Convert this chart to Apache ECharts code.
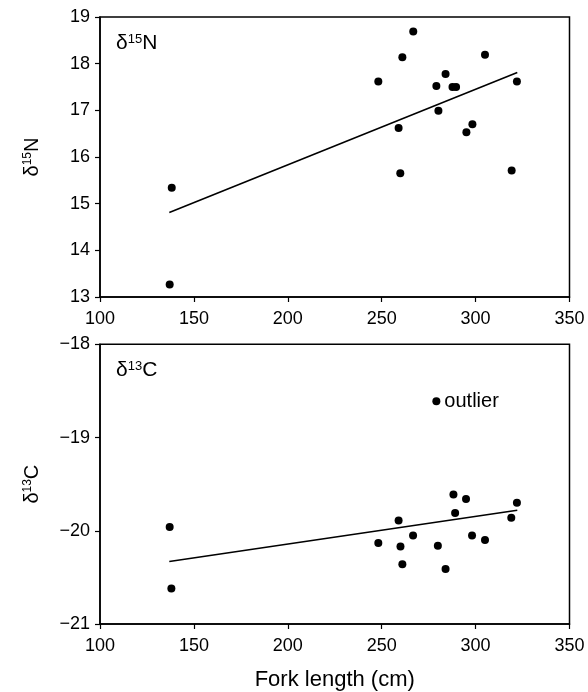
<!DOCTYPE html>
<html>
<head>
<meta charset="utf-8">
<script src="https://cdn.jsdelivr.net/npm/echarts@6/dist/echarts.min.js"></script>
<style>
html,body{margin:0;padding:0;background:#fff;}
#c{width:588px;height:692px;}
</style>
</head>
<body>
<div id="c"></div>
<script>
// Top panel: δ15N vs fork length
const nX = [266.8, 261.0, 248.2, 305.0, 284.0, 279.1, 287.7, 289.6, 322.0, 280.2, 298.3, 295.1, 259.0, 259.9, 319.2, 138.2, 137.1];
const nY = [18.69, 18.14, 17.62, 18.19, 17.78, 17.52, 17.50, 17.50, 17.62, 16.99, 16.70, 16.53, 16.62, 15.65, 15.71, 15.34, 13.27];
const nFitX = [136.9, 322.2];
const nFitY = [14.81, 17.81];

// Bottom panel: δ13C vs fork length
const cX = [288.2, 294.9, 322.0, 289.1, 319.0, 259.0, 266.7, 248.2, 260.0, 279.9, 298.1, 305.0, 261.0, 284.0, 137.1, 138.0];
const cY = [-19.61, -19.66, -19.70, -19.81, -19.86, -19.89, -20.05, -20.13, -20.17, -20.16, -20.05, -20.10, -20.36, -20.41, -19.96, -20.62];
const outlierX = [279.1];
const outlierY = [-18.61];
const outlierLabel = ['outlier'];
const cFitX = [136.9, 322.2];
const cFitY = [-20.33, -19.78];

const xTicks = [100, 150, 200, 250, 300, 350];
const nTicks = [13, 14, 15, 16, 17, 18, 19];
const cTicks = [-21, -20, -19, -18];

const FONT = '"Liberation Sans", Arial, Helvetica, sans-serif';
const zip = (xs, ys) => xs.map((x, i) => [x, ys[i]]);
const minus = v => String(v).replace('-', '\u2212');

const chart = echarts.init(document.getElementById('c'));

function xAxisCfg(idx, withName) {
  return {
    type: 'value', gridIndex: idx,
    min: xTicks[0], max: xTicks[xTicks.length - 1], interval: 50,
    axisLine: {show: true, onZero: false, lineStyle: {color: '#000', width: 1.5}},
    axisTick: {show: true, inside: false, length: 5, lineStyle: {color: '#000', width: 1.2}},
    axisLabel: {color: '#000', fontSize: 18, fontFamily: FONT, margin: 13},
    splitLine: {show: false},
    name: withName ? 'Fork length (cm)' : '',
    nameLocation: 'middle', nameGap: 45,
    nameTextStyle: {color: '#000', fontSize: 22, fontFamily: FONT}
  };
}
function yAxisCfg(idx, ticks, sup, letter) {
  return {
    type: 'value', gridIndex: idx,
    min: ticks[0], max: ticks[ticks.length - 1], interval: 1,
    axisLine: {show: true, onZero: false, lineStyle: {color: '#000', width: 1.5}},
    axisTick: {show: true, inside: false, length: 5, lineStyle: {color: '#000', width: 1.2}},
    axisLabel: {color: '#000', fontSize: 18, fontFamily: FONT, margin: 10, formatter: minus},
    splitLine: {show: false},
    name: '{d|δ}{s|' + sup + '}{d|' + letter + '}',
    nameLocation: 'middle', nameGap: 58, nameRotate: 90,
    nameTextStyle: {
      color: '#000', fontFamily: FONT,
      rich: {
        d: {fontSize: 20, fontFamily: FONT, color: '#000'},
        s: {fontSize: 12, fontFamily: FONT, color: '#000', verticalAlign: 'top', padding: [0, 0, 8, 0]}
      }
    }
  };
}

const dot = {symbol: 'circle', symbolSize: 8, itemStyle: {color: '#000', opacity: 1}};

const innerRich = {
  d: {fontSize: 21, fontFamily: FONT, fill: '#000'},
  s: {fontSize: 13, fontFamily: FONT, fill: '#000', verticalAlign: 'top', padding: [0, 0, 7, 0]}
};

chart.setOption({
  animation: false,
  backgroundColor: '#fff',
  grid: [
    {left: 100, top: 17, width: 469.5, height: 280, show: true, borderColor: '#000', borderWidth: 1.5, backgroundColor: 'transparent'},
    {left: 100, top: 344.3, width: 469.5, height: 280.7, show: true, borderColor: '#000', borderWidth: 1.5, backgroundColor: 'transparent'}
  ],
  xAxis: [xAxisCfg(0, false), xAxisCfg(1, true)],
  yAxis: [yAxisCfg(0, nTicks, '15', 'N'), yAxisCfg(1, cTicks, '13', 'C')],
  graphic: [
    {type: 'text', left: 116, top: 33, style: {text: '{d|δ}{s|15}{d|N}', fill: '#000', rich: innerRich}},
    {type: 'text', left: 116, top: 360, style: {text: '{d|δ}{s|13}{d|C}', fill: '#000', rich: innerRich}}
  ],
  series: [
    Object.assign({type: 'scatter', xAxisIndex: 0, yAxisIndex: 0, data: zip(nX, nY)}, dot),
    {type: 'line', xAxisIndex: 0, yAxisIndex: 0, data: zip(nFitX, nFitY), showSymbol: false, symbol: 'none',
      lineStyle: {color: '#000', width: 1.6}},
    Object.assign({type: 'scatter', xAxisIndex: 1, yAxisIndex: 1, data: zip(cX, cY)}, dot),
    Object.assign({type: 'scatter', xAxisIndex: 1, yAxisIndex: 1, data: zip(outlierX, outlierY),
      label: {show: true, position: 'right', distance: 4, formatter: () => outlierLabel[0], color: '#000', fontSize: 20, fontFamily: FONT}}, dot),
    {type: 'line', xAxisIndex: 1, yAxisIndex: 1, data: zip(cFitX, cFitY), showSymbol: false, symbol: 'none',
      lineStyle: {color: '#000', width: 1.6}}
  ]
});
</script>
</body>
</html>
